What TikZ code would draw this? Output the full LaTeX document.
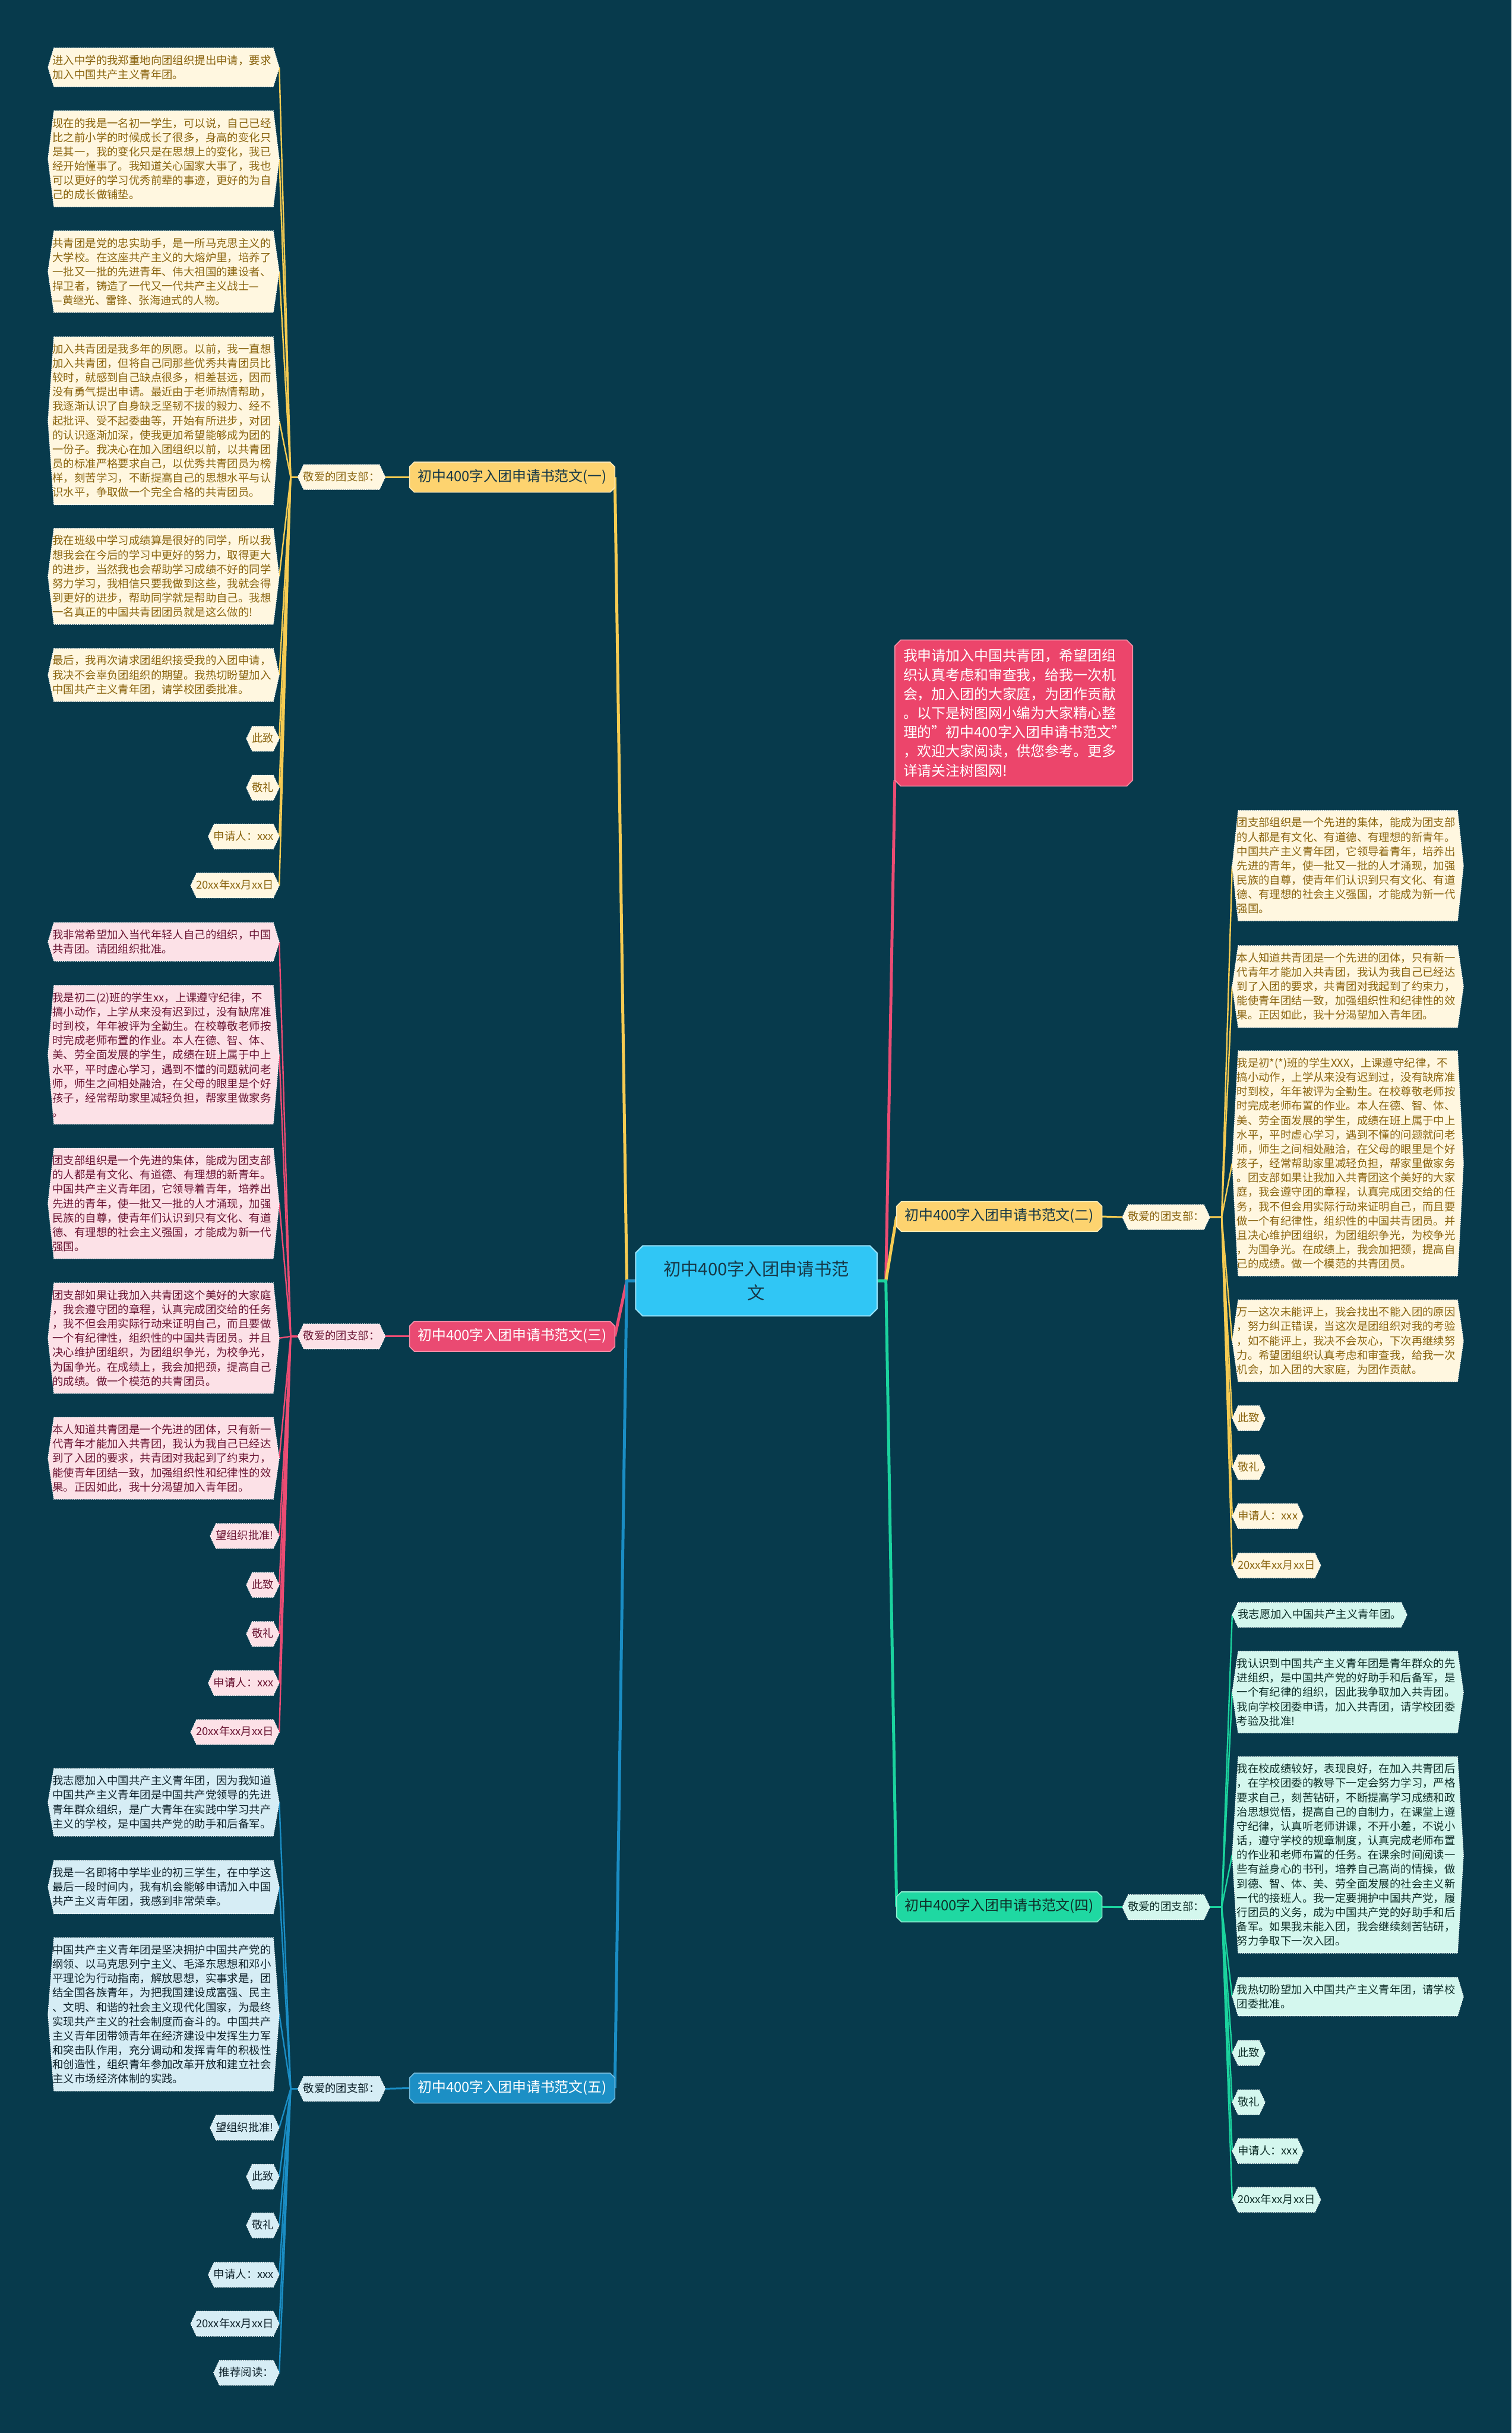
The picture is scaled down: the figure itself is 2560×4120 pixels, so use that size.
\documentclass[tikz,border=0pt]{standalone}
\usepackage{fontspec}
\setmainfont{Noto Sans CJK SC}
\usetikzlibrary{calc}
\pgfdeclarelayer{back}
\pgfdeclarelayer{bg}
\pgfsetlayers{back,bg,main}
\definecolor{bgc}{HTML}{073A4C}
\definecolor{yline}{HTML}{F6CB52}
\definecolor{yfill}{HTML}{FDD36F}
\definecolor{ycream}{HTML}{FFF7E0}
\definecolor{ytx}{HTML}{8B6510}
\definecolor{pline}{HTML}{EB4C73}
\definecolor{pfill}{HTML}{EA4A72}
\definecolor{plight}{HTML}{FCE1E7}
\definecolor{ptx}{HTML}{6B1533}
\definecolor{bline}{HTML}{1A8DC4}
\definecolor{bfill}{HTML}{1C8FC5}
\definecolor{blight}{HTML}{D6EDF5}
\definecolor{btx}{HTML}{10232C}
\definecolor{gline}{HTML}{1BD39E}
\definecolor{gfill}{HTML}{1FD8A2}
\definecolor{glight}{HTML}{D4F7EE}
\definecolor{gtx}{HTML}{0F2F29}
\definecolor{rootfill}{HTML}{30C6F5}
\definecolor{roottx}{HTML}{173847}
\definecolor{introfill}{HTML}{EC456B}
\newcommand\hexshape[2]{%
  \path[#2] ($(#1.north west)+(10,0)$) -- ($(#1.north east)+(-10,0)$) -- (#1.east)
    -- ($(#1.south east)+(-10,0)$) -- ($(#1.south west)+(10,0)$) -- (#1.west) -- cycle;}
\newcommand\chamshape[3]{%
  \path[#3] ($(#1.north west)+(#2,0)$) -- ($(#1.north east)+(-#2,0)$) -- ($(#1.north east)+(0,#2)$)
    -- ($(#1.south east)+(0,-#2)$) -- ($(#1.south east)+(-#2,0)$) -- ($(#1.south west)+(#2,0)$)
    -- ($(#1.south west)+(0,-#2)$) -- ($(#1.north west)+(0,#2)$) -- cycle;}
\tikzset{
  leaf/.style={font=\fontsize{9.25pt}{12.15pt}\selectfont, inner ysep=5.8pt},
  big/.style={leaf, text width=188pt, align=left, inner xsep=3.75pt},
  sm/.style={leaf, inner xsep=4.5pt, text height=7.6pt, text depth=1.6pt},
  br/.style={font=\fontsize{12pt}{14pt}\selectfont, minimum width=173.5pt, minimum height=25pt,
    inner sep=2pt, text height=9pt, text depth=2.2pt},
  rootst/.style={font=\fontsize{14.75pt}{20pt}\selectfont, text width=180pt, align=center,
    minimum width=204pt, minimum height=59pt, inner sep=0pt, text=roottx},
  introst/.style={font=\fontsize{12pt}{16.2pt}\selectfont, text width=187pt, align=left,
    inner xsep=7pt, inner ysep=7.5pt, text=white},
  ybox/.style={fill=ycream, draw=white, densely dotted, line width=0.6pt},
  pbox/.style={fill=plight, draw=white, densely dotted, line width=0.6pt},
  bbox/.style={fill=blight, draw=white, densely dotted, line width=0.6pt},
  gbox/.style={fill=glight, draw=white, densely dotted, line width=0.6pt},
  mainln/.style={line width=2.5pt, line join=round},
  subln/.style={line width=1.5pt, line join=round},
  leafln/.style={line width=1.2pt, line join=round},
}
\begin{document}
\begin{tikzpicture}[x=0.5pt,y=-0.5pt]
\useasboundingbox (0,0) rectangle (2560,4120);
\begin{pgfonlayer}{back}
\fill[bgc] (0,0) rectangle (2560,4120);
\end{pgfonlayer}

% root and intro
\node[rootst] (root) at (1281,2169) {初中400字入团申请书范\\文};
\node[introst] (intro) at (1717,1207.5) {我申请加入中国共青团，希望团组\\织认真考虑和审查我，给我一次机\\会，加入团的大家庭，为团作贡献\\。以下是树图网小编为大家精心整\\理的"初中400字入团申请书范文"\\，欢迎大家阅读，供您参考。更多\\详请关注树图网!};

% branches and labels
\node[br, text=roottx] (B1) at (867.5,808) {初中400字入团申请书范文(一)};
\node[sm, text=ytx] (L1) at (578.5,808) {敬爱的团支部：};
\node[br, text=white] (B3) at (867.5,2263) {初中400字入团申请书范文(三)};
\node[sm, text=ptx] (L3) at (578.5,2263) {敬爱的团支部：};
\node[br, text=white] (B5) at (867.5,3536) {初中400字入团申请书范文(五)};
\node[sm, text=btx] (L5) at (578.5,3537) {敬爱的团支部：};
\node[br, text=roottx] (B2) at (1692.5,2060) {初中400字入团申请书范文(二)};
\node[sm, text=ytx] (L2) at (1975,2061) {敬爱的团支部：};
\node[br, text=gtx] (B4) at (1692.5,3229) {初中400字入团申请书范文(四)};
\node[sm, text=gtx] (L4) at (1975,3229.5) {敬爱的团支部：};

% ---- branch one children
\begin{scope}[every node/.append style={anchor=east, text=ytx}]
\node[big] (a1) at (473,114) {进入中学的我郑重地向团组织提出申请，要求\\加入中国共产主义青年团。};
\node[big] (a2) at (473,269) {现在的我是一名初一学生，可以说，自己已经\\比之前小学的时候成长了很多，身高的变化只\\是其一，我的变化只是在思想上的变化，我已\\经开始懂事了。我知道关心国家大事了，我也\\可以更好的学习优秀前辈的事迹，更好的为自\\己的成长做铺垫。};
\node[big] (a3) at (473,460) {共青团是党的忠实助手，是一所马克思主义的\\大学校。在这座共产主义的大熔炉里，培养了\\一批又一批的先进青年、伟大祖国的建设者、\\捍卫者，铸造了一代又一代共产主义战士—\\—黄继光、雷锋、张海迪式的人物。};
\node[big] (a4) at (473,712.5) {加入共青团是我多年的夙愿。以前，我一直想\\加入共青团，但将自己同那些优秀共青团员比\\较时，就感到自己缺点很多，相差甚远，因而\\没有勇气提出申请。最近由于老师热情帮助，\\我逐渐认识了自身缺乏坚韧不拔的毅力、经不\\起批评、受不起委曲等，开始有所进步，对团\\的认识逐渐加深，使我更加希望能够成为团的\\一份子。我决心在加入团组织以前，以共青团\\员的标准严格要求自己，以优秀共青团员为榜\\样，刻苦学习，不断提高自己的思想水平与认\\识水平，争取做一个完全合格的共青团员。};
\node[big] (a5) at (473,976) {我在班级中学习成绩算是很好的同学，所以我\\想我会在今后的学习中更好的努力，取得更大\\的进步，当然我也会帮助学习成绩不好的同学\\努力学习，我相信只要我做到这些，我就会得\\到更好的进步，帮助同学就是帮助自己。我想\\一名真正的中国共青团团员就是这么做的!};
\node[big] (a6) at (473,1143) {最后，我再次请求团组织接受我的入团申请，\\我决不会辜负团组织的期望。我热切盼望加入\\中国共产主义青年团，请学校团委批准。};
\node[sm] (a7) at (473,1251) {此致};
\node[sm] (a8) at (473,1334) {敬礼};
\node[sm] (a9) at (473,1416.5) {申请人：xxx};
\node[sm] (a10) at (473,1499.5) {20xx年xx月xx日};
\end{scope}

% ---- branch three children
\begin{scope}[every node/.append style={anchor=east, text=ptx}]
\node[big] (c1) at (473,1595) {我非常希望加入当代年轻人自己的组织，中国\\共青团。请团组织批准。};
\node[big] (c2) at (473,1786) {我是初二(2)班的学生xx，上课遵守纪律，不\\搞小动作，上学从来没有迟到过，没有缺席准\\时到校，年年被评为全勤生。在校尊敬老师按\\时完成老师布置的作业。本人在德、智、体、\\美、劳全面发展的学生，成绩在班上属于中上\\水平，平时虚心学习，遇到不懂的问题就问老\\师，师生之间相处融洽，在父母的眼里是个好\\孩子，经常帮助家里减轻负担，帮家里做家务\\。};
\node[big] (c3) at (473,2038) {团支部组织是一个先进的集体，能成为团支部\\的人都是有文化、有道德、有理想的新青年。\\中国共产主义青年团，它领导着青年，培养出\\先进的青年，使一批又一批的人才涌现，加强\\民族的自尊，使青年们认识到只有文化、有道\\德、有理想的社会主义强国，才能成为新一代\\强国。};
\node[big] (c4) at (473,2266) {团支部如果让我加入共青团这个美好的大家庭\\，我会遵守团的章程，认真完成团交给的任务\\，我不但会用实际行动来证明自己，而且要做\\一个有纪律性，组织性的中国共青团员。并且\\决心维护团组织，为团组织争光，为校争光，\\为国争光。在成绩上，我会加把颈，提高自己\\的成绩。做一个模范的共青团员。};
\node[big] (c5) at (473,2469.5) {本人知道共青团是一个先进的团体，只有新一\\代青年才能加入共青团，我认为我自己已经达\\到了入团的要求，共青团对我起到了约束力，\\能使青年团结一致，加强组织性和纪律性的效\\果。正因如此，我十分渴望加入青年团。};
\node[sm] (c6) at (473,2601) {望组织批准!};
\node[sm] (c7) at (473,2684) {此致};
\node[sm] (c8) at (473,2767) {敬礼};
\node[sm] (c9) at (473,2850) {申请人：xxx};
\node[sm] (c10) at (473,2933) {20xx年xx月xx日};
\end{scope}

% ---- branch five children
\begin{scope}[every node/.append style={anchor=east, text=btx}]
\node[big] (e1) at (473,3052) {我志愿加入中国共产主义青年团，因为我知道\\中国共产主义青年团是中国共产党领导的先进\\青年群众组织，是广大青年在实践中学习共产\\主义的学校，是中国共产党的助手和后备军。};
\node[big] (e2) at (473,3195.5) {我是一名即将中学毕业的初三学生，在中学这\\最后一段时间内，我有机会能够申请加入中国\\共产主义青年团，我感到非常荣幸。};
\node[big] (e3) at (473,3411) {中国共产主义青年团是坚决拥护中国共产党的\\纲领、以马克思列宁主义、毛泽东思想和邓小\\平理论为行动指南，解放思想，实事求是，团\\结全国各族青年，为把我国建设成富强、民主\\、文明、和谐的社会主义现代化国家，为最终\\实现共产主义的社会制度而奋斗的。中国共产\\主义青年团带领青年在经济建设中发挥生力军\\和突击队作用，充分调动和发挥青年的积极性\\和创造性，组织青年参加改革开放和建立社会\\主义市场经济体制的实践。};
\node[sm] (e4) at (473,3603) {望组织批准!};
\node[sm] (e5) at (473,3686) {此致};
\node[sm] (e6) at (473,3768.5) {敬礼};
\node[sm] (e7) at (473,3852) {申请人：xxx};
\node[sm] (e8) at (473,3935) {20xx年xx月xx日};
\node[sm] (e9) at (473,4018) {推荐阅读：};
\end{scope}

% ---- branch two children
\begin{scope}[every node/.append style={anchor=west, text=ytx}]
\node[big] (t1) at (2087,1466) {团支部组织是一个先进的集体，能成为团支部\\的人都是有文化、有道德、有理想的新青年。\\中国共产主义青年团，它领导着青年，培养出\\先进的青年，使一批又一批的人才涌现，加强\\民族的自尊，使青年们认识到只有文化、有道\\德、有理想的社会主义强国，才能成为新一代\\强国。};
\node[big] (t2) at (2087,1670.5) {本人知道共青团是一个先进的团体，只有新一\\代青年才能加入共青团，我认为我自己已经达\\到了入团的要求，共青团对我起到了约束力，\\能使青年团结一致，加强组织性和纪律性的效\\果。正因如此，我十分渴望加入青年团。};
\node[big] (t3) at (2087,1970) {我是初*(*)班的学生XXX，上课遵守纪律，不\\搞小动作，上学从来没有迟到过，没有缺席准\\时到校，年年被评为全勤生。在校尊敬老师按\\时完成老师布置的作业。本人在德、智、体、\\美、劳全面发展的学生，成绩在班上属于中上\\水平，平时虚心学习，遇到不懂的问题就问老\\师，师生之间相处融洽，在父母的眼里是个好\\孩子，经常帮助家里减轻负担，帮家里做家务\\。团支部如果让我加入共青团这个美好的大家\\庭，我会遵守团的章程，认真完成团交给的任\\务，我不但会用实际行动来证明自己，而且要\\做一个有纪律性，组织性的中国共青团员。并\\且决心维护团组织，为团组织争光，为校争光\\，为国争光。在成绩上，我会加把颈，提高自\\己的成绩。做一个模范的共青团员。};
\node[big] (t4) at (2087,2270.5) {万一这次未能评上，我会找出不能入团的原因\\，努力纠正错误，当这次是团组织对我的考验\\，如不能评上，我决不会灰心，下次再继续努\\力。希望团组织认真考虑和审查我，给我一次\\机会，加入团的大家庭，为团作贡献。};
\node[sm] (t5) at (2087,2401.5) {此致};
\node[sm] (t6) at (2087,2484.5) {敬礼};
\node[sm] (t7) at (2087,2567.5) {申请人：xxx};
\node[sm] (t8) at (2087,2651) {20xx年xx月xx日};
\end{scope}

% ---- branch four children
\begin{scope}[every node/.append style={anchor=west, text=gtx}]
\node[sm] (f1) at (2087,2734.5) {我志愿加入中国共产主义青年团。};
\node[big] (f2) at (2087,2865.5) {我认识到中国共产主义青年团是青年群众的先\\进组织，是中国共产党的好助手和后备军，是\\一个有纪律的组织，因此我争取加入共青团。\\我向学校团委申请，加入共青团，请学校团委\\考验及批准!};
\node[big] (f3) at (2087,3141) {我在校成绩较好，表现良好，在加入共青团后\\，在学校团委的教导下一定会努力学习，严格\\要求自己，刻苦钻研，不断提高学习成绩和政\\治思想觉悟，提高自己的自制力，在课堂上遵\\守纪律，认真听老师讲课，不开小差，不说小\\话，遵守学校的规章制度，认真完成老师布置\\的作业和老师布置的任务。在课余时间阅读一\\些有益身心的书刊，培养自己高尚的情操，做\\到德、智、体、美、劳全面发展的社会主义新\\一代的接班人。我一定要拥护中国共产党，履\\行团员的义务，成为中国共产党的好助手和后\\备军。如果我未能入团，我会继续刻苦钻研，\\努力争取下一次入团。};
\node[big] (f4) at (2087,3381) {我热切盼望加入中国共产主义青年团，请学校\\团委批准。};
\node[sm] (f5) at (2087,3476.5) {此致};
\node[sm] (f6) at (2087,3560) {敬礼};
\node[sm] (f7) at (2087,3642.5) {申请人：xxx};
\node[sm] (f8) at (2087,3725) {20xx年xx月xx日};
\end{scope}

\coordinate (cl) at ($(root.west)+(-15,0)$);
\coordinate (cr) at ($(root.east)+(15,0)$);
\coordinate (j1) at ($(L1.west)+(-12,0)$);
\coordinate (j3) at ($(L3.west)+(-12,0)$);
\coordinate (j5) at ($(L5.west)+(-12,0)$);
\coordinate (j2) at ($(L2.east)+(20,0)$);
\coordinate (j4) at ($(L4.east)+(20,0)$);

\begin{pgfonlayer}{bg}
% main connectors
\draw[mainln, yline] (root.west) -- (cl) -- (B1.east);
\draw[mainln, pline] (root.west) -- (cl) -- (B3.east);
\draw[mainln, bline] (root.west) -- (cl) -- (B5.east);
\draw[mainln, pline] (root.east) -- (cr) -- ($(intro.south west)+(0,-10)$);
\draw[mainln, yline] (root.east) -- (cr) -- (B2.west);
\draw[mainln, gline] (root.east) -- (cr) -- (B4.west);
% branch to label
\draw[subln, yline] (B1.west) -- (L1.east);
\draw[subln, pline] (B3.west) -- (L3.east);
\draw[subln, bline] (B5.west) -- (L5.east);
\draw[subln, yline] (B2.east) -- (L2.west);
\draw[subln, gline] (B4.east) -- (L4.west);
% label to leaves
\foreach \i in {1,...,10} {\draw[leafln, yline] (L1.west) -- (j1) -- (a\i.east);}
\foreach \i in {1,...,10} {\draw[leafln, pline] (L3.west) -- (j3) -- (c\i.east);}
\foreach \i in {1,...,9} {\draw[leafln, bline] (L5.west) -- (j5) -- (e\i.east);}
\foreach \i in {1,...,8} {\draw[leafln, yline] (L2.east) -- (j2) -- (t\i.west);}
\foreach \i in {1,...,8} {\draw[leafln, gline] (L4.east) -- (j4) -- (f\i.west);}
% shapes
\chamshape{root}{12}{fill=rootfill, draw=white!50!rootfill, line width=1pt}
\chamshape{intro}{10}{fill=introfill, draw=white!40!introfill, line width=0.8pt}
\chamshape{B1}{8}{fill=yfill, draw=white!50!yfill, line width=0.8pt}
\chamshape{B2}{8}{fill=yfill, draw=white!50!yfill, line width=0.8pt}
\chamshape{B3}{8}{fill=pfill, draw=white!40!pfill, line width=0.8pt}
\chamshape{B4}{8}{fill=gfill, draw=white!50!gfill, line width=0.8pt}
\chamshape{B5}{8}{fill=bfill, draw=white!40!bfill, line width=0.8pt}
\hexshape{L1}{ybox}
\hexshape{L2}{ybox}
\hexshape{L3}{pbox}
\hexshape{L4}{gbox}
\hexshape{L5}{bbox}
\foreach \i in {1,...,10} {\hexshape{a\i}{ybox}}
\foreach \i in {1,...,10} {\hexshape{c\i}{pbox}}
\foreach \i in {1,...,9} {\hexshape{e\i}{bbox}}
\foreach \i in {1,...,8} {\hexshape{t\i}{ybox}}
\foreach \i in {1,...,8} {\hexshape{f\i}{gbox}}
\end{pgfonlayer}
\end{tikzpicture}
\end{document}
